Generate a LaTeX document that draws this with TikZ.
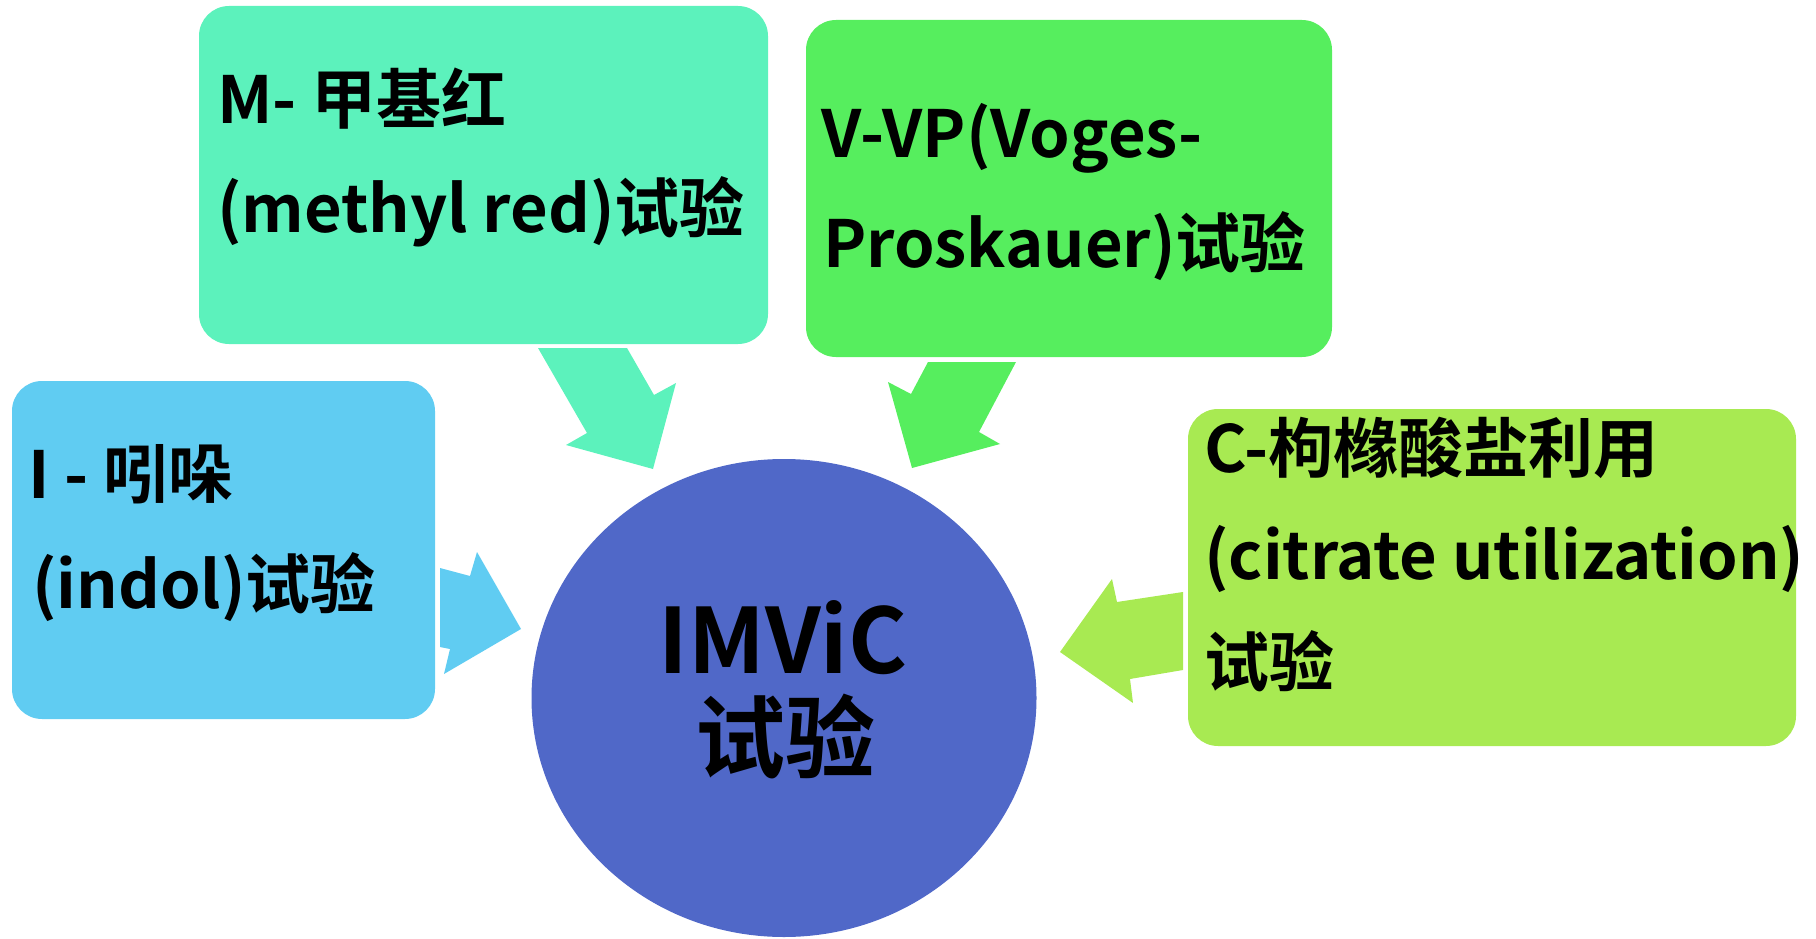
\documentclass[tikz,border=0pt]{standalone}
\usepackage{fontspec}
\setmainfont{Noto Sans CJK SC}[BoldFont={Noto Sans CJK SC Bold}]
\usetikzlibrary{shapes.geometric}
\definecolor{cM}{RGB}{92,242,188}
\definecolor{cV}{RGB}{86,238,94}
\definecolor{cI}{RGB}{96,204,242}
\definecolor{cC}{RGB}{168,234,82}
\definecolor{cO}{RGB}{80,104,200}
\tikzset{
  box/.style={draw=none, rounded corners=30pt, anchor=north west, inner sep=0, outer sep=0},
  txt/.style={anchor=base west, inner sep=0, text=black, font=\bfseries\fontsize{65}{65}\selectfont},
  bigtxt/.style={anchor=base, inner sep=0, text=black, font=\bfseries\fontsize{90}{90}\selectfont}
}
\begin{document}
\begin{tikzpicture}[x=1pt,y=-1pt]
\useasboundingbox (0,0) rectangle (1816,939);
% boxes
\node[box, fill=cM, minimum width=569pt, minimum height=338pt] (M) at (199,6) {};
\node[box, fill=cV, minimum width=526pt, minimum height=337pt] (V) at (806,20) {};
\node[box, fill=cI, minimum width=423pt, minimum height=338pt] (I) at (12,381) {};
\node[box, fill=cC, minimum width=608pt, minimum height=337pt] (C) at (1188,409) {};
% centre
\node[ellipse, fill=cO, draw=none, inner sep=0, minimum width=505pt, minimum height=478pt] (O) at (784,698) {};
% block arrows
\fill[cM] (538,348) -- (627,348) -- (654,395) -- (676,383) -- (653,469) -- (566,445) -- (587,433) -- cycle;
\fill[cV] (928,362) -- (1016,362) -- (979,432) -- (1000,444) -- (912,468) -- (888,382) -- (911,394) -- cycle;
\fill[cI] (440,568) -- (470,576) -- (477,552) -- (521,629) -- (444,674) -- (450,649) -- (440,647) -- cycle;
\fill[cC] (1183,592) -- (1117,602) -- (1112,579) -- (1060,652) -- (1133,703) -- (1130,679) -- (1183,670) -- cycle;
% texts
\node[txt] (m1) at (217,124) {M- 甲基红};
\node[txt] (m2) at (217,233) {(methyl red)试验};
\node[txt] (v1) at (821,158) {V-VP(Voges-};
\node[txt] (v2) at (823,267) {Proskauer)试验};
\node[txt] (i1) at (28,498) {I - 吲哚};
\node[txt] (i2) at (32,608) {(indol)试验};
\node[txt] (c1) at (1204,472) {C-枸橼酸盐利用};
\node[txt] (c2) at (1204,579) {(citrate utilization)};
\node[txt] (c3) at (1204,686) {试验};
\node[bigtxt] (o1) at (783,673) {IMViC};
\node[bigtxt] (o2) at (785,771) {试验};
\end{tikzpicture}
\end{document}
